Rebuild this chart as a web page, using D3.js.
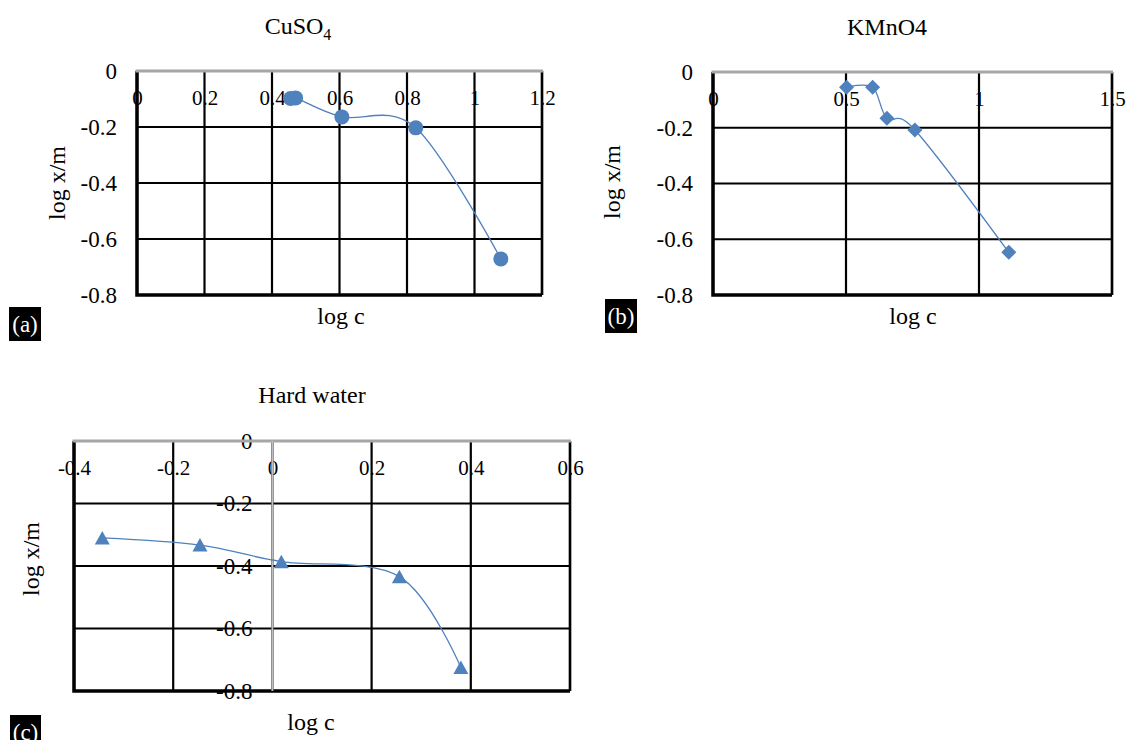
<!DOCTYPE html>
<html>
<head>
<meta charset="utf-8">
<script src="https://cdn.jsdelivr.net/npm/d3@7"></script>
<style>
  body { margin: 0; background: #fff; }
  svg text { font-family: "Liberation Serif", "Times New Roman", serif; fill: #000; }
</style>
</head>
<body>
<svg width="1127" height="740"></svg>
<script>
// values
let cuso4X = [0.455, 0.47, 0.607, 0.826, 1.078]
let cuso4Y = [-0.098, -0.096, -0.164, -0.203, -0.671]

let kmno4X = [0.502, 0.6, 0.654, 0.759, 1.112]
let kmno4Y = [-0.055, -0.055, -0.166, -0.208, -0.647]

let hardX = [-0.343, -0.146, 0.018, 0.256, 0.38]
let hardY = [-0.31, -0.333, -0.386, -0.434, -0.725]

let ticksCuso4 = [0, 0.2, 0.4, 0.6, 0.8, 1, 1.2]
let ticksKmno4 = [0, 0.5, 1, 1.5]
let ticksHard = [-0.4, -0.2, 0, 0.2, 0.4, 0.6]
let ticksY = [0, -0.2, -0.4, -0.6, -0.8]

let blue = "#4f81bd"
let serif = '"Liberation Serif", "Times New Roman", serif'
let svg = d3.select("svg")
let fmt = d => String(Math.round(d * 10) / 10)

function drawPanel(cfg) {
    let x = d3.scaleLinear().domain(cfg.xDomain).range(cfg.xRange)
    let y = d3.scaleLinear().domain([-0.8, 0]).range(cfg.yRange)
    let g = svg.append("g")
    let pts = cfg.xs.map((v, i) => [v, cfg.ys[i]])

    // title
    let t = g.append("text")
        .attr("x", cfg.title[1]).attr("y", cfg.title[2])
        .attr("text-anchor", "middle")
        .style("font-size", "24px")
    if (cfg.sub) {
        t.append("tspan").text(cfg.title[0])
        t.append("tspan").text(cfg.sub).attr("dy", 6).style("font-size", "16px")
    } else {
        t.text(cfg.title[0])
    }

    // tick labels (gridlines go over them)
    let xa = g.append("g")
        .attr("transform", `translate(0,${y(0)})`)
        .call(d3.axisBottom(x).tickValues(cfg.xTicks).tickSize(0).tickPadding(19).tickFormat(fmt))
        .attr("font-family", serif)
        .attr("font-size", 21)
    xa.select(".domain").remove()
    xa.selectAll("text").attr("font-size", 21)

    let ya = g.append("g")
        .attr("transform", `translate(${x(0)},0)`)
        .call(d3.axisLeft(y).tickValues(ticksY).tickSize(0).tickPadding(20).tickFormat(fmt))
        .attr("font-family", serif)
        .attr("font-size", 23)
    ya.select(".domain").remove()
    ya.selectAll("text").attr("font-size", 23)

    // gridlines
    g.selectAll(".vgrid")
        .data(cfg.xTicks)
        .join("line")
        .attr("x1", d => x(d)).attr("x2", d => x(d))
        .attr("y1", y(0)).attr("y2", y(-0.8))
        .style("stroke", "#000").style("stroke-width", 2.2)

    g.selectAll(".hgrid")
        .data(ticksY.filter(d => d != 0))
        .join("line")
        .attr("x1", x.range()[0]).attr("x2", x.range()[1])
        .attr("y1", d => y(d)).attr("y2", d => y(d))
        .style("stroke", "#000").style("stroke-width", 2.2)

    // plot border
    let [x0, x1] = x.range()
    g.append("path")
        .attr("d", `M${x0},${y(0)}V${y(-0.8)}H${x1}`)
        .style("fill", "none").style("stroke", "#000").style("stroke-width", 3.5)
    g.append("line")
        .attr("x1", x1).attr("x2", x1).attr("y1", y(0)).attr("y2", y(-0.8))
        .style("stroke", "#000").style("stroke-width", 2.5)

    // axis lines (grey)
    g.append("line")
        .attr("x1", x0 - 1.5).attr("x2", x1 + 1).attr("y1", y(0)).attr("y2", y(0))
        .style("stroke", "#a6a6a6").style("stroke-width", 3)
    if (cfg.xDomain[0] < 0) {
        g.append("line")
            .attr("x1", x(0)).attr("x2", x(0)).attr("y1", y(0)).attr("y2", y(-0.8))
            .style("stroke", "#bfbfbf").style("stroke-width", 2)
    }

    // series
    let line = d3.line()
        .x(d => x(d[0])).y(d => y(d[1]))
        .curve(d3.curveCardinal.tension(0))
    g.append("path")
        .attr("d", line(pts))
        .style("fill", "none").style("stroke", blue).style("stroke-width", 1.3)

    g.selectAll(".pt")
        .data(pts)
        .join("path")
        .attr("transform", d => `translate(${x(d[0])},${y(d[1])})`)
        .attr("d", cfg.marker)
        .style("fill", blue)

    // axis titles
    g.append("text")
        .attr("transform", `translate(${cfg.yTitle[0]},${cfg.yTitle[1]}) rotate(-90)`)
        .attr("text-anchor", "middle")
        .style("font-size", "24px")
        .text("log x/m")
    g.append("text")
        .attr("x", cfg.xTitle[0]).attr("y", cfg.xTitle[1])
        .attr("text-anchor", "middle")
        .style("font-size", "24px")
        .text("log c")

    // panel tag
    g.append("rect")
        .attr("x", cfg.tag[1]).attr("y", cfg.tag[2])
        .attr("width", cfg.tag[3]).attr("height", 34)
        .style("fill", "#000")
    g.append("text")
        .attr("x", cfg.tag[1] + cfg.tag[3] / 2).attr("y", cfg.tag[2] + 25)
        .attr("text-anchor", "middle")
        .style("font-size", "23px").style("fill", "#fff")
        .text(cfg.tag[0])
}

let circle = d3.symbol(d3.symbolCircle, Math.PI * 7.5 * 7.5)()
let diamond = "M0,-7.5L7.5,0L0,7.5L-7.5,0Z"
let triangle = "M0,-7L7.5,6.5L-7.5,6.5Z"

drawPanel({
    xs: cuso4X, ys: cuso4Y, xTicks: ticksCuso4,
    xDomain: [0, 1.2], xRange: [137, 542], yRange: [295, 71],
    title: ["CuSO", 298, 34], sub: "4",
    yTitle: [65, 183], xTitle: [341, 324],
    tag: ["(a)", 9, 307, 32], marker: circle
})

drawPanel({
    xs: kmno4X, ys: kmno4Y, xTicks: ticksKmno4,
    xDomain: [0, 1.5], xRange: [713, 1112], yRange: [295, 72],
    title: ["KMnO4", 887, 35],
    yTitle: [620, 182], xTitle: [913, 324],
    tag: ["(b)", 605, 299, 32], marker: diamond
})

drawPanel({
    xs: hardX, ys: hardY, xTicks: ticksHard,
    xDomain: [-0.4, 0.6], xRange: [74, 570], yRange: [691, 441],
    title: ["Hard water", 312, 403],
    yTitle: [39, 559], xTitle: [311, 730],
    tag: ["(c)", 10, 715, 31], marker: triangle
})
</script>
</body>
</html>
